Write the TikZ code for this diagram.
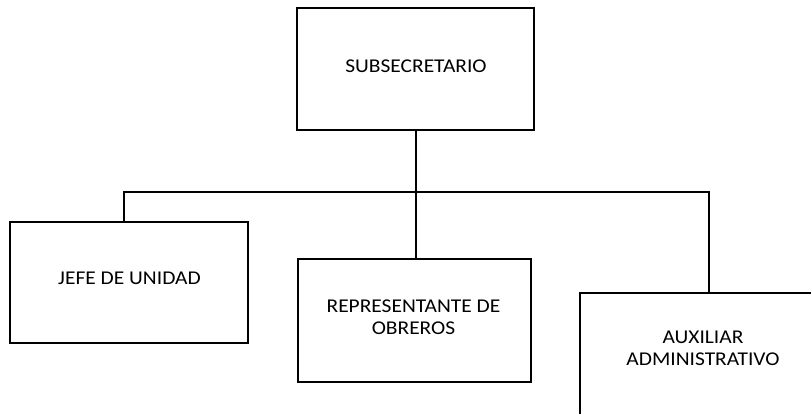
\documentclass[tikz,border=0pt]{standalone}
\usepackage{fontspec}
\setmainfont{Carlito}[FakeStretch=1.1]
\begin{document}
\begin{tikzpicture}[x=1pt,y=-1pt,
  box/.style={draw=black, line width=2pt, rectangle, inner sep=0pt},
  lbl/.style={font=\fontsize{19.5}{21.7}\selectfont, align=center, inner sep=0pt},
  conn/.style={draw=black, line width=2pt}]
\useasboundingbox (0,0) rectangle (811,414);
\clip (0,0) rectangle (811,414);
\fill[white] (0,0) rectangle (811,414);
\node[box, minimum width=237pt, minimum height=122pt] (sub) at (415.5,69) {};
\node[box, minimum width=238pt, minimum height=121pt] (jefe) at (129,282.5) {};
\node[box, minimum width=233pt, minimum height=123pt] (rep) at (414,320.5) {};
\node[box, minimum width=250pt, minimum height=127pt] (aux) at (705,356.5) {};
\node[lbl] (subt) at (416,66) {SUBSECRETARIO};
\node[lbl] (jefet) at (129.5,278) {JEFE DE UNIDAD};
\node[lbl] (rept) at (413.5,317) {REPRESENTANTE DE\\OBREROS};
\node[lbl] (auxt) at (703,348.5) {AUXILIAR\\ADMINISTRATIVO};
\coordinate (busL) at (124,192);
\coordinate (busR) at (709,192);
\draw[conn] (busL |- jefe.north) -- (busL) -- (busR) -- (busR |- aux.north);
\draw[conn] (sub.south) -- (sub.south |- rep.north);
\end{tikzpicture}
\end{document}
